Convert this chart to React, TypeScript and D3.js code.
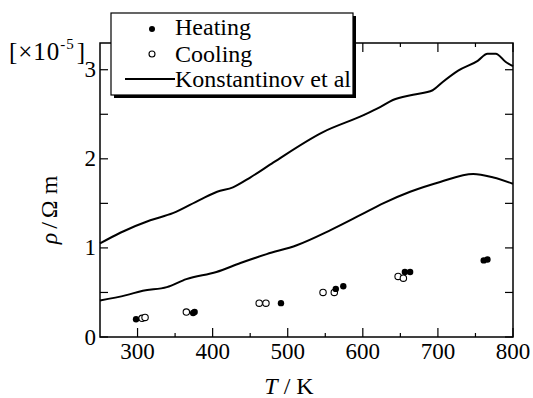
import React from 'react';
import * as d3 from 'd3';

// Konstantinov et al, upper and lower curves [T (K), rho (x1e-5 ohm m)]
const konstUpper: [number, number][] = [
  [250, 1.05], [277, 1.17], [317, 1.31], [347, 1.39], [383, 1.54], [406, 1.63],
  [427, 1.68], [450, 1.79], [481, 1.96], [547, 2.30], [601, 2.49], [623, 2.58],
  [640, 2.66], [667, 2.72], [693, 2.77], [706, 2.86], [727, 2.99], [753, 3.10],
  [766, 3.18], [777, 3.18], [790, 3.09], [800, 3.04],
];
const konstLower: [number, number][] = [
  [250, 0.41], [285, 0.47], [307, 0.52], [339, 0.56], [365, 0.65], [405, 0.73],
  [437, 0.83], [472, 0.93], [512, 1.03], [557, 1.20], [597, 1.37], [627, 1.50],
  [663, 1.63], [703, 1.74], [747, 1.83], [774, 1.79], [800, 1.72],
];
const heating: [number, number][] = [
  [298, 0.20], [374, 0.27], [376, 0.28], [491, 0.38], [564, 0.54], [574, 0.57],
  [656, 0.73], [663, 0.73], [761, 0.86], [766, 0.87],
];
const cooling: [number, number][] = [
  [306, 0.21], [310, 0.22], [365, 0.28], [462, 0.38], [471, 0.38], [547, 0.50],
  [562, 0.50], [647, 0.68], [654, 0.66],
];
const xMajor = [300, 400, 500, 600, 700, 800];
const xMinor = [350, 450, 550, 650, 750];
const yTicks = [0, 0.5, 1, 1.5, 2, 2.5, 3];
const yLabels = [0, 1, 2, 3];

const W = 533, H = 398;
const L = 100, R = 513, T = 43, B = 337;
const font = "'Liberation Serif', 'Times New Roman', Times, 'DejaVu Serif', serif";

export default function App() {
  const x = d3.scaleLinear().domain([250, 800]).range([L, R]);
  const y = d3.scaleLinear().domain([0, 3.3]).range([B, T]);
  const line = d3.line<[number, number]>().x(d => x(d[0])).y(d => y(d[1])).curve(d3.curveMonotoneX);

  return (
    <svg width={W} height={H} style={{ position: 'absolute', left: 0, top: 0, background: '#fff', fontFamily: font }}>
      <rect x={0} y={0} width={W} height={H} fill="#fff" />
      <path d={line(konstUpper) ?? ''} fill="none" stroke="#000" strokeWidth={2} />
      <path d={line(konstLower) ?? ''} fill="none" stroke="#000" strokeWidth={2} />
      {cooling.map((d, i) => (
        <circle key={`c${i}`} cx={x(d[0])} cy={y(d[1])} r={3.2} fill="#fff" stroke="#000" strokeWidth={1.1} />
      ))}
      {heating.map((d, i) => (
        <circle key={`h${i}`} cx={x(d[0])} cy={y(d[1])} r={3.2} fill="#000" />
      ))}

      {/* frame and ticks */}
      <rect x={L} y={T} width={R - L} height={B - T} fill="none" stroke="#000" strokeWidth={1.5} />
      {xMajor.map(v => (
        <g key={`xm${v}`}>
          <line x1={x(v)} x2={x(v)} y1={B} y2={B - 9} stroke="#000" strokeWidth={1.2} />
          <line x1={x(v)} x2={x(v)} y1={T} y2={T + 9} stroke="#000" strokeWidth={1.2} />
          <text x={x(v)} y={359} textAnchor="middle" fontSize={23}>{v}</text>
        </g>
      ))}
      {xMinor.map(v => (
        <g key={`xn${v}`}>
          <line x1={x(v)} x2={x(v)} y1={B} y2={B - 4} stroke="#000" strokeWidth={1.2} />
          <line x1={x(v)} x2={x(v)} y1={T} y2={T + 4} stroke="#000" strokeWidth={1.2} />
        </g>
      ))}
      {yTicks.map(v => (
        <g key={`y${v}`}>
          <line x1={L} x2={L + 8} y1={y(v)} y2={y(v)} stroke="#000" strokeWidth={1.2} />
          <line x1={R} x2={R - 8} y1={y(v)} y2={y(v)} stroke="#000" strokeWidth={1.2} />
        </g>
      ))}
      {yLabels.map(v => (
        <text key={`yl${v}`} x={96} y={y(v) + 7.5} textAnchor="end" fontSize={23}>{v}</text>
      ))}

      <text x={9} y={60} fontSize={25} textLength={76} lengthAdjust="spacing">
        [×10<tspan dy={-11} fontSize={15}>-5</tspan><tspan dy={11} dx={2}>]</tspan>
      </text>
      <text transform="translate(57,210) rotate(-90)" textAnchor="middle" fontSize={24}>
        <tspan fontStyle="italic">ρ</tspan><tspan dx={4}>/</tspan><tspan dx={4}>Ω m</tspan>
      </text>
      <text x={289} y={394} textAnchor="middle" fontSize={24}>
        <tspan fontStyle="italic">T</tspan><tspan dx={6}>/ K</tspan>
      </text>

      {/* legend */}
      <rect x={114} y={16} width={242} height={82} fill="#000" />
      <rect x={111} y={13} width={242} height={82} fill="#fff" stroke="#000" strokeWidth={1.2} />
      <circle cx={152} cy={29} r={3} fill="#000" />
      <text x={175} y={35} fontSize={24}>Heating</text>
      <circle cx={152} cy={54} r={3} fill="#fff" stroke="#000" strokeWidth={1.1} />
      <text x={175} y={62} fontSize={24}>Cooling</text>
      <line x1={125} x2={175} y1={79} y2={79} stroke="#000" strokeWidth={2} />
      <text x={175} y={87} fontSize={24}>Konstantinov et al</text>
    </svg>
  );
}
